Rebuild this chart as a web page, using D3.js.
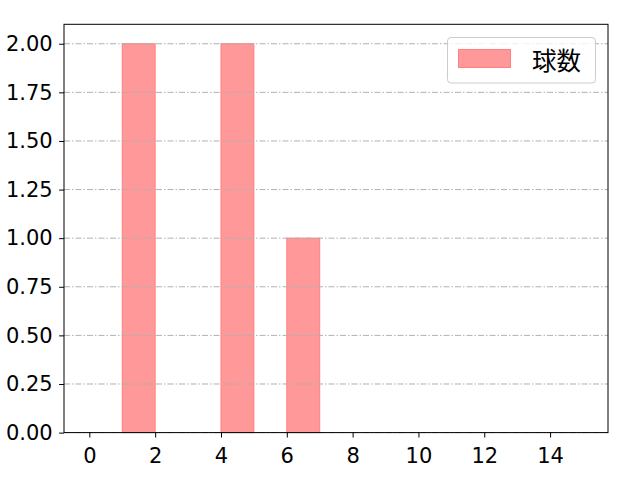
<!DOCTYPE html>
<html>
<head>
<meta charset="utf-8">
<script src="https://cdn.jsdelivr.net/npm/d3@7"></script>
<style>
  body { margin: 0; background: #fff; }
  text { font-family: "DejaVu Sans", sans-serif; }
</style>
</head>
<body>
<svg width="640" height="480"></svg>
<script>
// Histogram bins (left edges) and counts
const binStarts = [0, 1, 2, 3, 4, 5, 6, 7, 8, 9, 10, 11, 12, 13, 14];
const counts    = [0, 2, 0, 0, 2, 0, 1, 0, 0, 0, 0,  0,  0,  0,  0];
const binWidth = 1;
const xTicks = [0, 2, 4, 6, 8, 10, 12, 14];
const yTicks = [0, 0.25, 0.5, 0.75, 1.0, 1.25, 1.5, 1.75, 2.0];
const seriesName = "球数";

// The svg
const svg = d3.select("svg");
const plotLeft = 64, plotRight = 608, plotTop = 24.3, plotBottom = 432.6;

const x = d3.scaleLinear().domain([-0.77, 15.76]).range([plotLeft, plotRight]);
const y = d3.scaleLinear().domain([0, 2.1]).range([plotBottom, plotTop]);

// Bars
svg.append("g")
    .selectAll("rect")
    .data(binStarts.map((b, i) => ({ b: b, c: counts[i] })).filter(d => d.c > 0))
    .join("rect")
        .attr("x", d => x(d.b))
        .attr("width", d => x(d.b + binWidth) - x(d.b))
        .attr("y", d => y(d.c))
        .attr("height", d => y(0) - y(d.c))
        .attr("fill", "rgb(255,153,153)")
        .attr("stroke", "rgb(255,128,128)")
        .attr("stroke-width", 1);

// Grid lines (drawn above bars)
svg.append("g")
    .selectAll("line")
    .data(yTicks)
    .join("line")
        .attr("x1", plotLeft).attr("x2", plotRight)
        .attr("y1", d => y(d)).attr("y2", d => y(d))
        .attr("stroke", "#b0b0b0")
        .attr("stroke-width", 1)
        .attr("stroke-dasharray", "6,2,1.5,2");

// Axes
const xAxis = svg.append("g")
    .attr("transform", `translate(0,${plotBottom})`)
    .call(d3.axisBottom(x).tickValues(xTicks).tickSize(4.9).tickPadding(10.2).tickFormat(d3.format("d")));
const yAxis = svg.append("g")
    .attr("transform", `translate(${plotLeft},0)`)
    .call(d3.axisLeft(y).tickValues(yTicks).tickSize(4.9).tickPadding(6.4).tickFormat(d3.format(".2f")));

[xAxis, yAxis].forEach(g => {
    g.select(".domain").remove();
    g.selectAll("line").attr("stroke", "#000").attr("stroke-width", 1);
    g.selectAll("text").attr("font-size", 21).attr("fill", "#000")
        .style("font-family", '"DejaVu Sans", sans-serif');
});

// Frame
svg.append("rect")
    .attr("x", plotLeft).attr("y", plotTop)
    .attr("width", plotRight - plotLeft).attr("height", plotBottom - plotTop)
    .attr("fill", "none").attr("stroke", "#000").attr("stroke-width", 1);

// Legend
const legend = svg.append("g");
legend.append("rect")
    .attr("x", 447.5).attr("y", 37.5).attr("width", 148).attr("height", 45.5)
    .attr("rx", 3.5)
    .attr("fill", "#fff").attr("fill-opacity", 0.8)
    .attr("stroke", "#cccccc").attr("stroke-width", 1);
legend.append("rect")
    .attr("x", 458.5).attr("y", 49.5).attr("width", 52).attr("height", 18)
    .attr("fill", "rgb(255,153,153)")
    .attr("stroke", "rgb(255,128,128)").attr("stroke-width", 1);
legend.append("text")
    .attr("x", 532).attr("y", 59)
    .attr("dominant-baseline", "central")
    .attr("font-size", 24.5)
    .style("font-family", '"Noto Sans CJK JP", sans-serif')
    .text(seriesName);
</script>
</body>
</html>
